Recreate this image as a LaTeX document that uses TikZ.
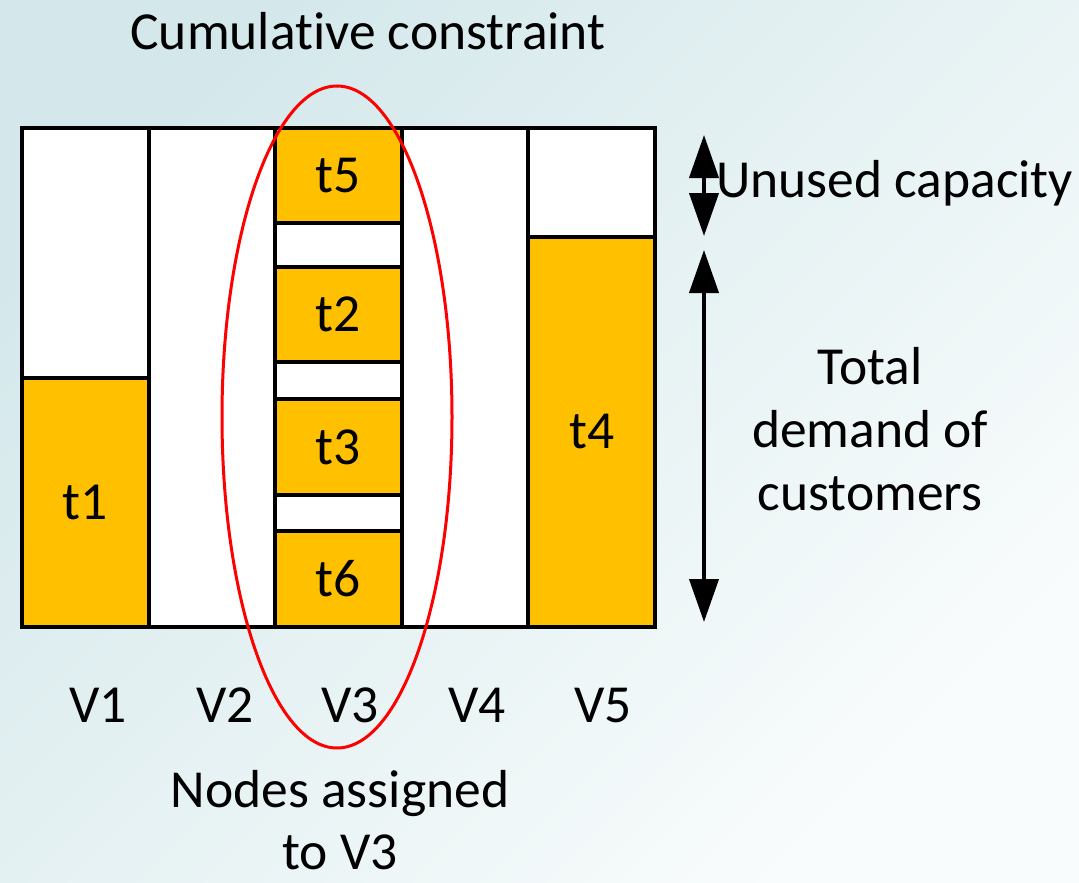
\documentclass[tikz,border=0pt]{standalone}
\usepackage{fontspec}
\setmainfont{Carlito}[Ligatures=NoCommon]
\usetikzlibrary{arrows.meta,shapes.geometric}
\definecolor{bgdark}{RGB}{212,232,235}
\definecolor{bglight}{RGB}{249,252,252}
\definecolor{gold}{RGB}{255,192,0}
\definecolor{ringred}{RGB}{255,0,0}
\tikzset{
  lbl/.style={font=\fontsize{53.5}{62}\selectfont, inner sep=0pt, align=center},
  column/.style={draw=black, line width=4pt, fill=white, inner sep=0pt,
    minimum width=126.6pt, minimum height=499pt},
  load/.style={draw=black, line width=4pt, fill=gold, inner sep=0pt,
    minimum width=126.6pt, font=\fontsize{53.5}{63}\selectfont},
  span/.style={line width=4pt, {Triangle[length=43pt,width=29pt]}-{Triangle[length=43pt,width=29pt]}},
}
\begin{document}
\begin{tikzpicture}[x=1pt,y=-1pt]
  % background
  \useasboundingbox (0,0) rectangle (1079,883);
  \shade[top color=bgdark, bottom color=bglight, shading angle=45] (0,0) rectangle (1079,883);

  % bins
  \node[column] (c1) at (85.3,377.5) {};
  \node[column] (c2) at (211.9,377.5) {};
  \node[column] (c3) at (338.5,377.5) {};
  \node[column] (c4) at (465.1,377.5) {};
  \node[column] (c5) at (591.7,377.5) {};

  % loads
  \node[load, minimum height=249pt] (t1) at (85.3,502.5) {t1};
  \node[load, minimum height=390pt] (t4) at (591.7,432) {t4};
  \node[load, minimum height=95pt] (t5) at (338.5,175.5) {t5};
  \node[load, minimum height=95pt] (t2) at (338.5,314.5) {t2};
  \node[load, minimum height=96pt] (t3) at (338.5,447) {t3};
  \node[load, minimum height=96pt] (t6) at (338.5,579) {t6};

  % bin labels
  \node[lbl, anchor=base] (v1) at (98,722) {V1};
  \node[lbl, anchor=base] (v2) at (225,722) {V2};
  \node[lbl, anchor=base] (v3) at (350,722) {V3};
  \node[lbl, anchor=base] (v4) at (477,722) {V4};
  \node[lbl, anchor=base] (v5) at (603,722) {V5};

  % titles and notes (base = last line)
  \node[lbl, anchor=base] (title) at (368,50) {Cumulative constraint};
  \node[lbl, anchor=base west] (unused) at (716,197) {Unused capacity};
  \node[lbl, font=\fontsize{53.5}{63}\selectfont, anchor=base] (demand) at (870,510) {Total\\demand of\\customers};
  \node[lbl, anchor=base] (assigned) at (340,869) {Nodes assigned\\to V3};

  % selection ring
  \node[draw=ringred, line width=3pt, ellipse, inner sep=0pt,
        minimum width=230pt, minimum height=662pt] (ring) at (337,417) {};

  % dimension arrows
  \coordinate (ua) at (704,135);
  \coordinate (ub) at (704,236);
  \coordinate (da) at (704,250);
  \coordinate (db) at (704,622);
  \draw[span] (ua) -- (ub);
  \draw[span] (da) -- (db);
\end{tikzpicture}
\end{document}
